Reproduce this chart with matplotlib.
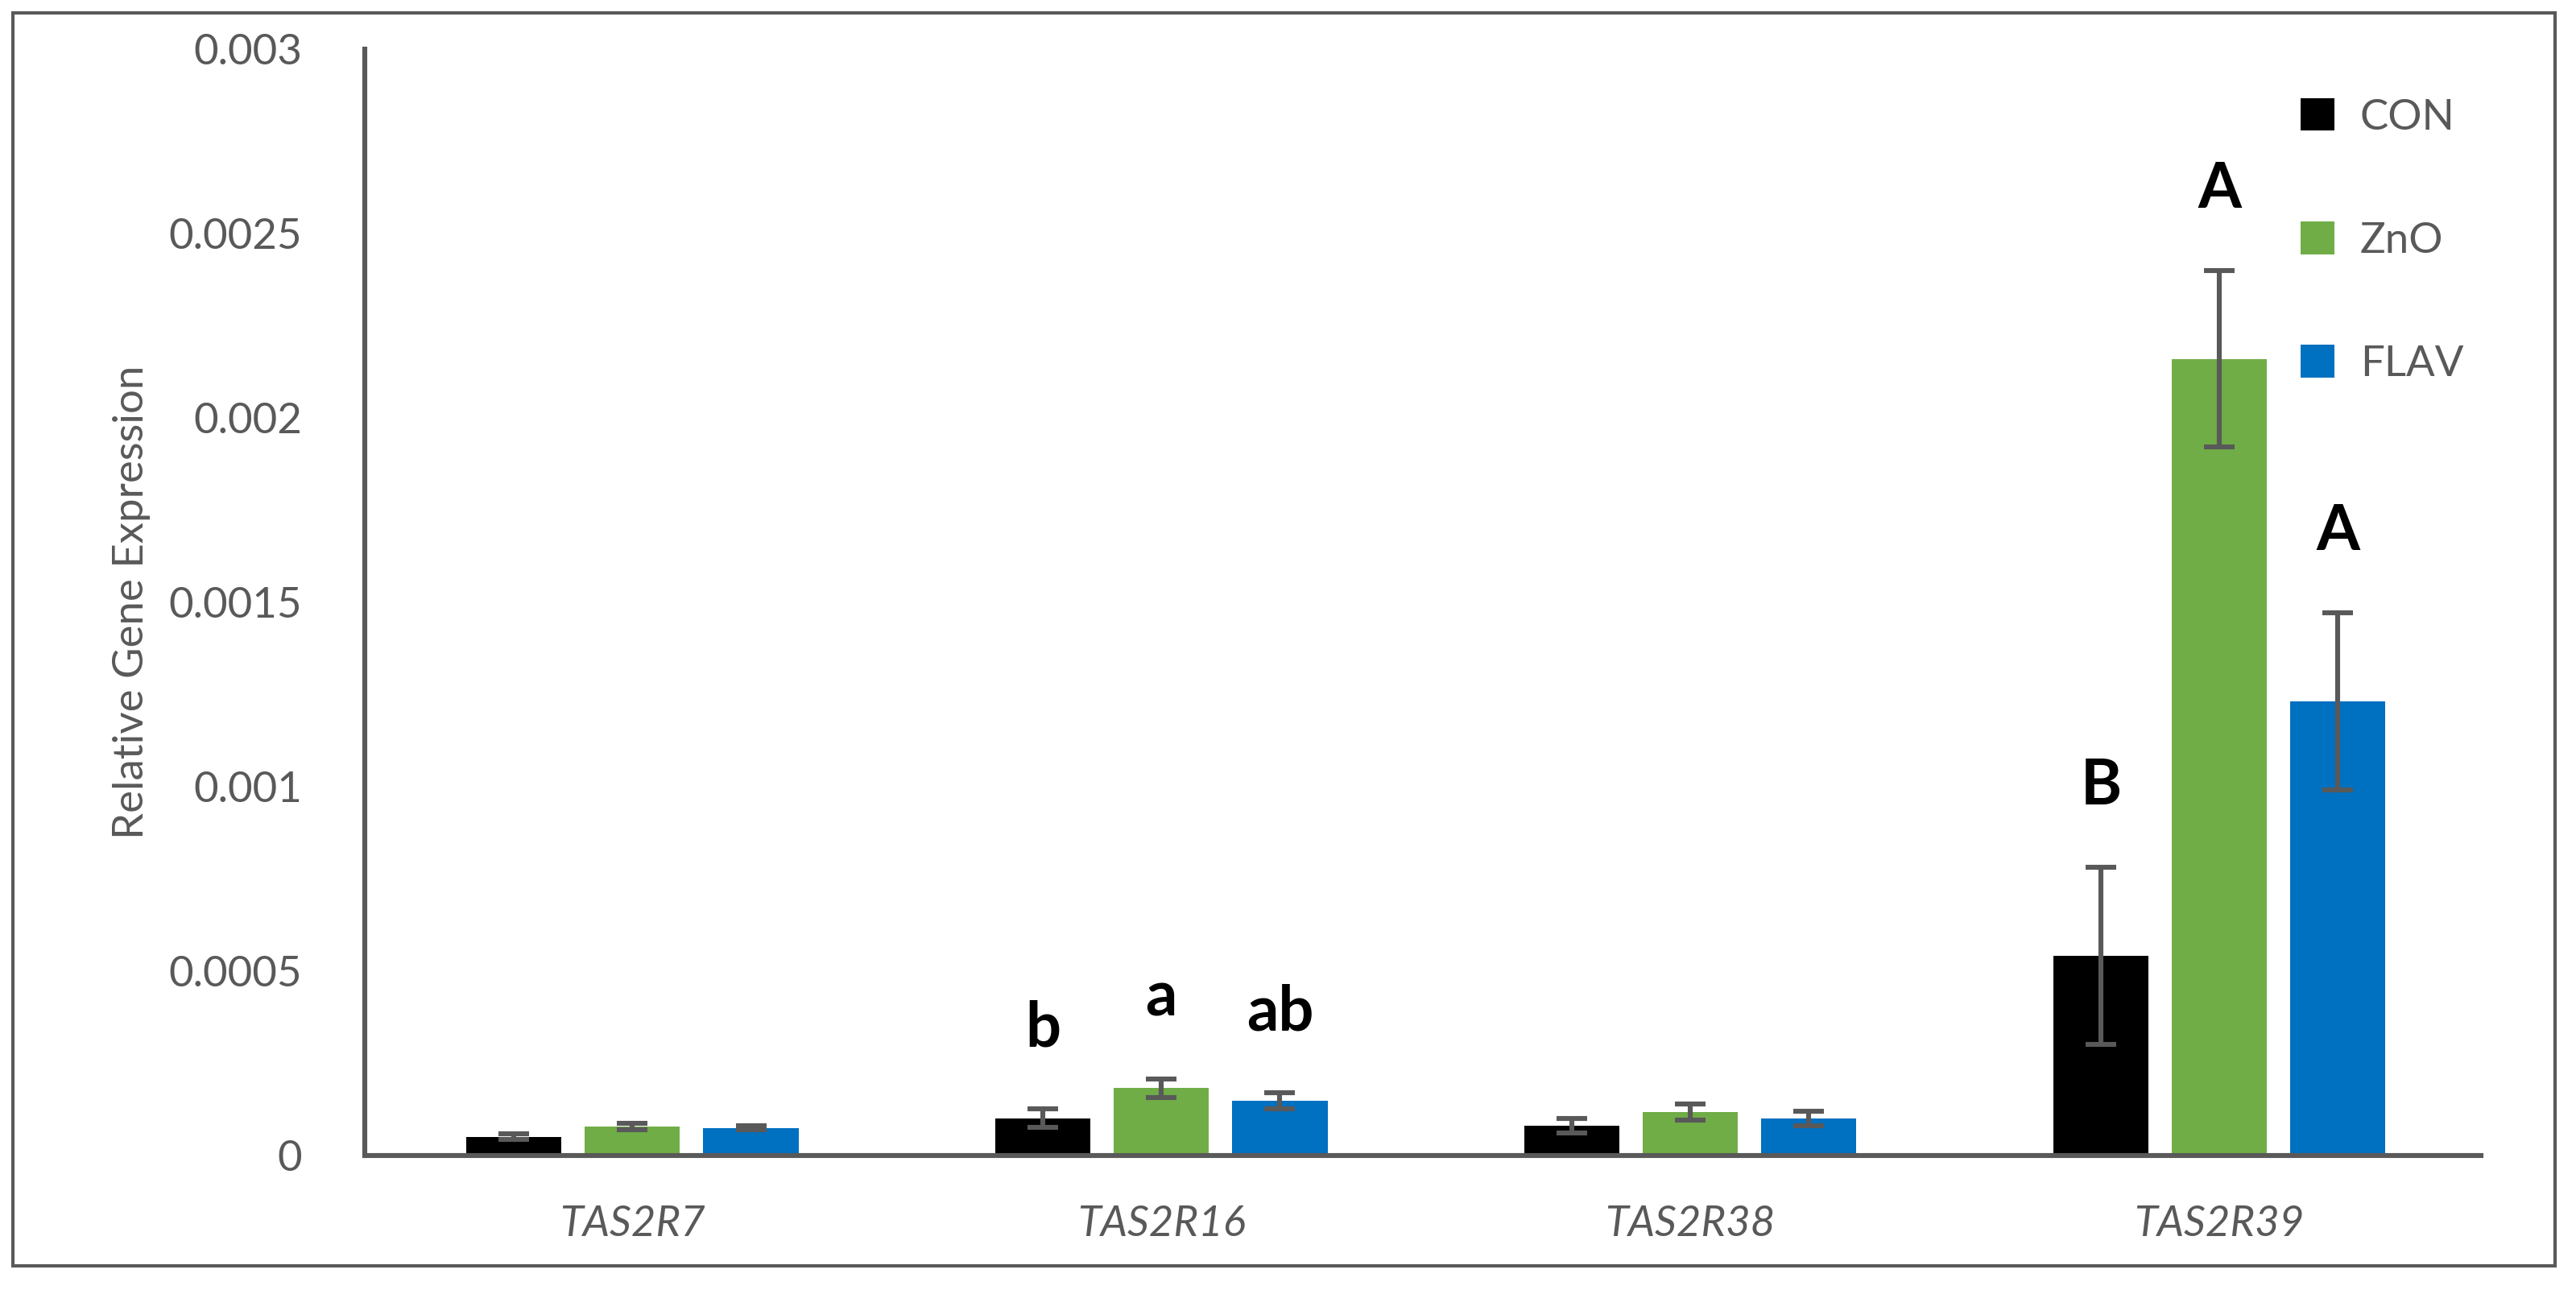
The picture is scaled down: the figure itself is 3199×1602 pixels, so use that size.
import matplotlib.pyplot as plt
import numpy as np
from matplotlib.patches import Rectangle

genes = ['TAS2R7', 'TAS2R16', 'TAS2R38', 'TAS2R39']
groups = ['CON', 'ZnO', 'FLAV']
con = [0.00005, 0.0001, 0.00008, 0.00054]
zno = [0.000078, 0.000182, 0.000117, 0.00216]
flav = [0.000074, 0.000147, 0.0001, 0.00123]
con_err = [0.000008, 0.000025, 0.00002, 0.00024]
zno_err = [0.000008, 0.000025, 0.000022, 0.00024]
flav_err = [0.000006, 0.000022, 0.00002, 0.00024]
letters = {0: ['', 'b', '', 'B'], 1: ['', 'a', '', 'A'], 2: ['', 'ab', '', 'A']}

plt.rcParams['font.family'] = ['Lato', 'DejaVu Sans']
grey = '#595959'
colors = ['#000000', '#70AD47', '#0070C0']

fig = plt.figure(figsize=(15.995, 8.01), dpi=200)
ax = fig.add_axes([0.1416, 0.1045, 0.8214, 0.8575])
fig.patches.append(Rectangle((0.005, 0.019), 0.987, 0.971, transform=fig.transFigure,
                             fill=False, edgecolor=grey, linewidth=1.5))

x = np.arange(len(genes))
w = 0.18
off = 0.224
for i, (vals, errs, c, name) in enumerate(zip([con, zno, flav], [con_err, zno_err, flav_err], colors, groups)):
    xs = x + (i - 1) * off
    ax.bar(xs, vals, w, color=c, label=name, zorder=2)
    ax.errorbar(xs, vals, yerr=errs, fmt='none', ecolor=grey, elinewidth=2.2,
                capsize=7, capthick=2.2, zorder=3)
    for j, lab in enumerate(letters[i]):
        if lab:
            ax.text(xs[j], vals[j] + errs[j] + 0.00014, lab, ha='center', va='bottom',
                    fontsize=28, fontweight='bold')

ax.set_xlim(-0.506, 3.494)
ax.set_ylim(0, 0.003)
ax.set_yticks([0, 0.0005, 0.001, 0.0015, 0.002, 0.0025, 0.003])
ax.set_yticklabels(['0', '0.0005', '0.001', '0.0015', '0.002', '0.0025', '0.003'])
ax.set_xticks(x)
ax.set_xticklabels(genes, fontstyle='italic')
ax.tick_params(length=0, labelsize=19, labelcolor='#595959')
ax.tick_params(axis='x', pad=22)
ax.tick_params(axis='y', pad=28)
for s in ['top', 'right']:
    ax.spines[s].set_visible(False)
for s in ['left', 'bottom']:
    ax.spines[s].set_color(grey)
    ax.spines[s].set_linewidth(2.2)
ax.set_ylabel('Relative Gene Expression', fontsize=19, color='#595959', labelpad=8)

leg = ax.legend(loc='upper right', bbox_to_anchor=(1.01, 0.99), frameon=False, fontsize=19,
                handlelength=0.8, handleheight=0.8, labelspacing=2.0, handletextpad=0.6)
for t in leg.get_texts():
    t.set_color('#595959')

fig.savefig('out.png', dpi=200)
